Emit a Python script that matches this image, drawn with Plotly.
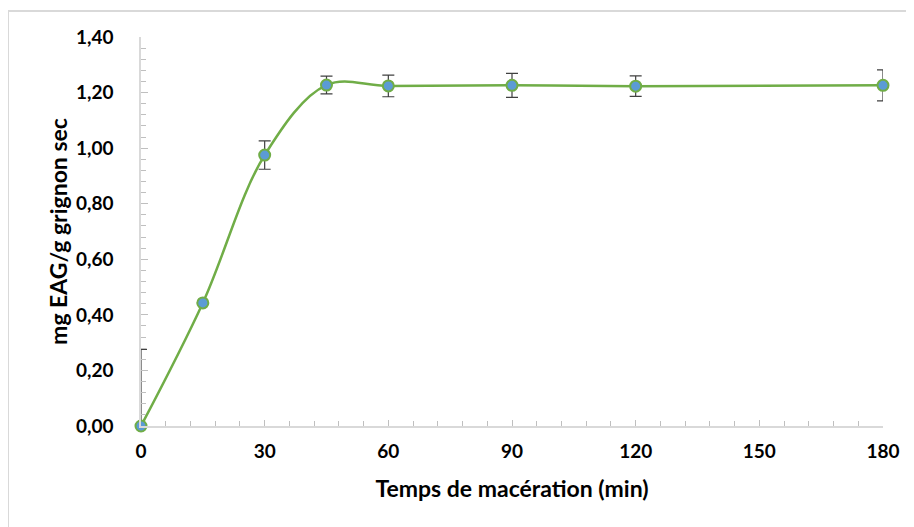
import plotly.graph_objects as go

time_min = [0, 15, 30, 45, 60, 90, 120, 180]
mg_eag = [0.0, 0.443, 0.975, 1.227, 1.224, 1.226, 1.223, 1.226]
err_plus = [0.276, 0.0, 0.051, 0.032, 0.039, 0.043, 0.037, 0.056]
err_minus = [0.0, 0.0, 0.051, 0.032, 0.039, 0.043, 0.037, 0.056]

x_ticks = [0, 30, 60, 90, 120, 150, 180]
y_ticks = [0, 0.2, 0.4, 0.6, 0.8, 1.0, 1.2, 1.4]

FONT = "Lato"
# page body has an 8px margin; compensate so the plot area lands at x 141..883, y 37..426
OFF = 8
PL, PR, PT, PB = 141, 883, 37, 426
W, H = 914, 527

fig = go.Figure()
fig.add_trace(go.Scatter(
    x=time_min, y=mg_eag,
    mode="lines+markers",
    line=dict(color="#70AD47", width=2.5, shape="spline", smoothing=1.0),
    marker=dict(color="#5B9BD5", size=11, line=dict(color="#70AD47", width=2)),
    error_y=dict(type="data", symmetric=False, array=err_plus, arrayminus=err_minus,
                 color="#404040", thickness=1.2, width=6),
    cliponaxis=False,
    showlegend=False,
))

fig.update_layout(
    width=W, height=H,
    margin=dict(l=PL - OFF, r=W + OFF - PR, t=PT - OFF, b=H + OFF - PB, autoexpand=False),
    paper_bgcolor="white", plot_bgcolor="white",
    separators=", ",
    font=dict(family=FONT, color="#000000"),
    shapes=[dict(type="rect", xref="paper", yref="paper",
                 x0=(8 - PL) / (PR - PL), x1=1.2, y0=-0.5, y1=(PB - 11) / (PB - PT),
                 line=dict(color="#D9D9D9", width=2), layer="below")],
)
fig.update_xaxes(
    range=[0, 180], tickmode="array", tickvals=x_ticks,
    ticktext=[str(v) for v in x_ticks],
    showgrid=False, zeroline=False,
    showline=True, linecolor="#D9D9D9", linewidth=1.5,
    ticks="inside", ticklen=6, tickcolor="#BFBFBF", tickwidth=1,
    minor=dict(ticks="inside", ticklen=5, dtick=6, tick0=0, tickcolor="#BFBFBF", showgrid=False),
    tickfont=dict(family=FONT, size=19, color="#000000", weight="bold"),
    ticklabelstandoff=7,
    title=dict(text="<b>Temps de macération (min)</b>", font=dict(family=FONT, size=23), standoff=20),
)
fig.update_yaxes(
    range=[0, 1.4], tickmode="array", tickvals=y_ticks,
    ticktext=[f"{v:.2f}".replace(".", ",") for v in y_ticks],
    showgrid=False, zeroline=False,
    showline=True, linecolor="#D9D9D9", linewidth=1.5,
    ticks="inside", ticklen=7, tickcolor="#BFBFBF", tickwidth=1,
    minor=dict(ticks="inside", ticklen=5, dtick=0.04, tick0=0, tickcolor="#BFBFBF", showgrid=False),
    tickfont=dict(family=FONT, size=19, color="#000000", weight="bold"),
    ticklabelstandoff=22,
    title=dict(text="<b>mg EAG/g grignon sec</b>", font=dict(family=FONT, size=23), standoff=2),
)

fig.write_html("out.html")
